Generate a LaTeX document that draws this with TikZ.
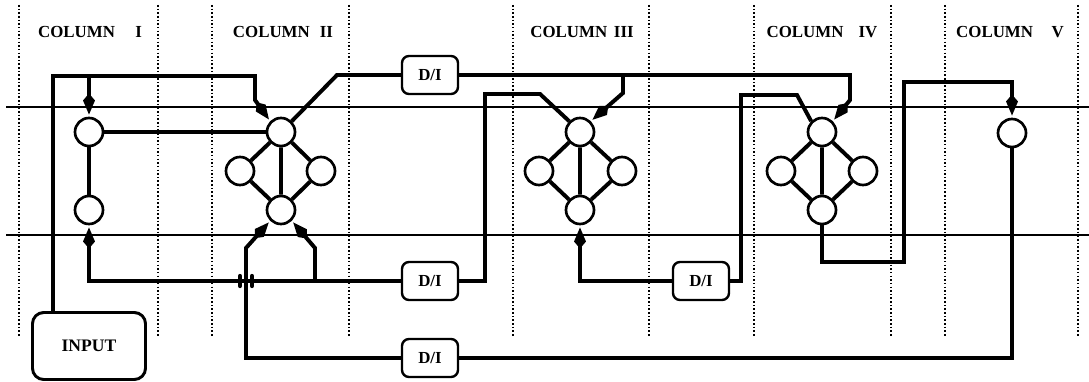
\documentclass[tikz,border=0pt]{standalone}
\usepackage{fontspec}
\setmainfont{Liberation Serif}
\usetikzlibrary{arrows.meta}

\begin{document}
\begin{tikzpicture}[x=0.025cm, y=-0.025cm,
  cell/.style={draw, circle, line width=1.9pt, fill=white, minimum size=0.7cm, inner sep=0pt},
  delay/.style={draw, rectangle, rounded corners=5pt, line width=1.7pt, fill=white,
    minimum width=1.4cm, minimum height=0.95cm, font=\bfseries\fontsize{12}{14}\selectfont},
  wire/.style={line width=2.8pt},
  feed/.style={wire, -{Kite[length=15pt,width=8.5pt,inset=5pt]}, shorten >=1.5pt},
  guide/.style={line width=1.4pt},
  sep/.style={line width=1.4pt, dash pattern=on 1.1pt off 1.5pt},
  lbl/.style={font=\bfseries\fontsize{12}{14}\selectfont}]
\useasboundingbox (0,0) rectangle (1089,381);

% column borders and the two bus lines
\foreach \x in {19,158,212,349,513,649,754,891,945,1078}
  \draw[sep] (\x,5) -- (\x,336);
\draw[guide] (6,107) -- (1089,107);
\draw[guide] (6,235) -- (1089,235);

\node[lbl] (h1) at (90,32) {COLUMN\hspace{1.2em}I};
\node[lbl] (h2) at (283,32) {COLUMN\hspace{0.6em}II};
\node[lbl] (h3) at (582,32) {COLUMN\hspace{0.4em}III};
\node[lbl] (h4) at (822,32) {COLUMN\hspace{0.9em}IV};
\node[lbl] (h5) at (1010,32) {COLUMN\hspace{1.1em}V};

% cells
\node[cell] (t1) at (89,132) {};
\node[cell] (b1) at (89,210) {};
\node[cell] (t2) at (281,132) {};
\node[cell] (l2) at (240,171) {};
\node[cell] (r2) at (321,171) {};
\node[cell] (b2) at (281,210) {};
\node[cell] (t3) at (580,132) {};
\node[cell] (l3) at (539,171) {};
\node[cell] (r3) at (622,171) {};
\node[cell] (b3) at (580,210) {};
\node[cell] (t4) at (822,132) {};
\node[cell] (l4) at (781,171) {};
\node[cell] (r4) at (863,171) {};
\node[cell] (b4) at (822,210) {};
\node[cell] (t5) at (1012,133) {};

% delays and input
\node[delay] (d1) at (430,75) {D/I};
\node[delay] (d2) at (430,281) {D/I};
\node[delay] (d3) at (701,281) {D/I};
\node[delay] (d4) at (430,358) {D/I};
\node[draw, rectangle, rounded corners=8pt, line width=2.1pt, minimum width=2.825cm,
  minimum height=1.675cm, font=\bfseries\fontsize{12.5}{14}\selectfont] (input) at (89,346) {INPUT};

% links inside the columns
\draw[wire] (t1) -- (t2);
\draw[wire] (t1) -- (b1);
\foreach \k in {2,3,4}
  \draw[wire] (t\k) -- (l\k) -- (b\k) -- (r\k) -- (t\k) -- (b\k);

% input feed
\coordinate (j1) at (53,76);
\draw[feed] (input.north -| j1) -- (j1) -- (255,76) -- (255,100) -- (t2.north west);
\draw[feed] (89,76) -- (t1.north);

% top loop
\draw[wire] (t2.north east) -- (337,75) -- (d1);
\draw[feed] (d1) -- (850,75) -- (850,100) -- (t4.north east);
\draw[feed] (623,75) -- (623,93) -- (t3.north east);

% from column III back
\draw[wire] (t3.north west) -- (540,94) -- (485,94) -- (485,281) -- (d2);
\draw[feed] (d2) -- (89,281) -- (b1);
\draw[feed] (315,281) -- (315,248) -- (b2.south east);

% from column V back
\draw[wire] (t5) -- (1012,358) -- (d4);
\draw[feed] (d4) -- (246,358) -- (246,248) -- (b2.south west);
\draw[line width=3pt, line cap=round] (240,276) -- (240,286) (252,276) -- (252,286);

% column III to IV
\draw[feed] (d3) -- (580,281) -- (b3);
\draw[wire] (d3) -- (741,281) -- (741,95) -- (797,95) -- (t4.north west);

% column IV to V
\draw[feed] (b4) -- (822,262) -- (904,262) -- (904,82) -- (1012,82) -- (t5);
\end{tikzpicture}
\end{document}
